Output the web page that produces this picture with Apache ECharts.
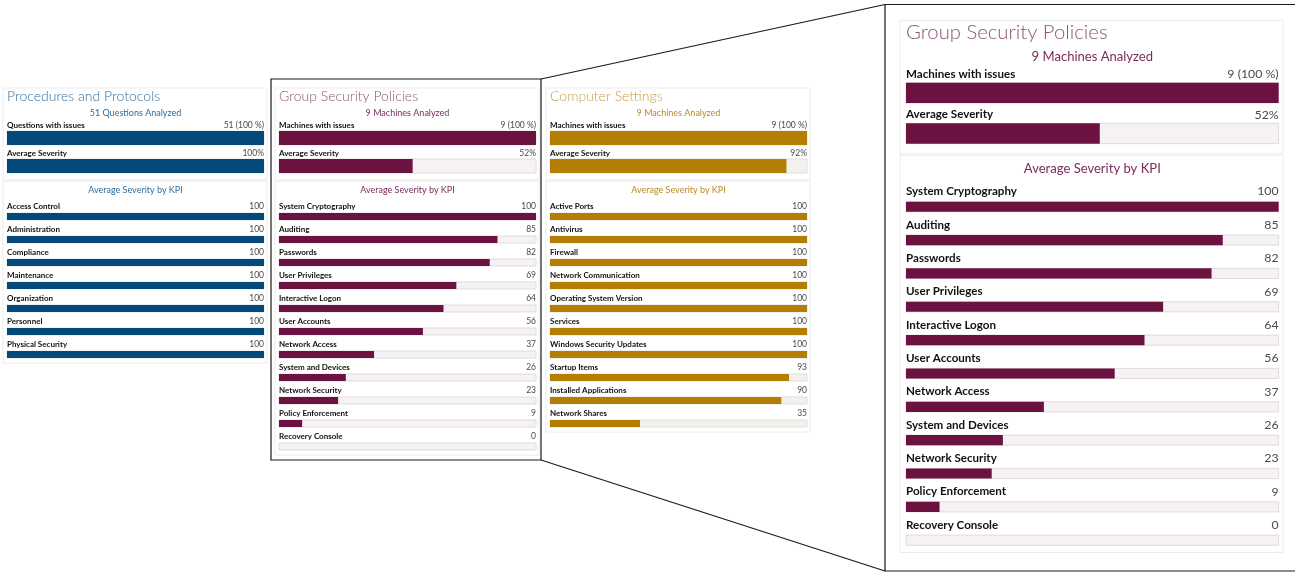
<!DOCTYPE html>
<html>
<head>
<meta charset="utf-8">
<script src="https://cdn.jsdelivr.net/npm/echarts@6/dist/echarts.min.js"></script>
<style>
html, body { margin: 0; padding: 0; background: #fff; }
#chart { width: 1295px; height: 572px; }
</style>
</head>
<body>
<div id="chart"></div>
<script>
// Procedures and Protocols
const ppSummaryLabels = ['Questions with issues', 'Average Severity']
const ppSummaryValues = [100, 100]
const ppSummaryTexts = ['51 (100 %)', '100%']
const ppKpis = ['Access Control', 'Administration', 'Compliance', 'Maintenance', 'Organization', 'Personnel', 'Physical Security']
const ppScores = [100, 100, 100, 100, 100, 100, 100]

// Group Security Policies
const gspSummaryLabels = ['Machines with issues', 'Average Severity']
const gspSummaryValues = [100, 52]
const gspSummaryTexts = ['9 (100 %)', '52%']
const gspKpis = ['System Cryptography', 'Auditing', 'Passwords', 'User Privileges', 'Interactive Logon', 'User Accounts',
    'Network Access', 'System and Devices', 'Network Security', 'Policy Enforcement', 'Recovery Console']
const gspScores = [100, 85, 82, 69, 64, 56, 37, 26, 23, 9, 0]

// Computer Settings
const csSummaryLabels = ['Machines with issues', 'Average Severity']
const csSummaryValues = [100, 92]
const csSummaryTexts = ['9 (100 %)', '92%']
const csKpis = ['Active Ports', 'Antivirus', 'Firewall', 'Network Communication', 'Operating System Version', 'Services',
    'Windows Security Updates', 'Startup Items', 'Installed Applications', 'Network Shares']
const csScores = [100, 100, 100, 100, 100, 100, 100, 93, 90, 35]

const FONT = 'Lato, "Open Sans", sans-serif'

const themes = {
    blue: { bar: '#05497a', title: '#3370a2', accent: '#2f6c9c', track: '#eef2f6', trackBorder: '#dfe5ea' },
    maroon: { bar: '#6b1241', title: '#8c5478', accent: '#7b2c5c', track: '#f6f1f5', trackBorder: '#e2d9df' },
    gold: { bar: '#b47e02', title: '#c8a04a', accent: '#b98a22', track: '#f3f1ee', trackBorder: '#e3dfda' }
}

const option = {
    animation: false,
    backgroundColor: '#fff',
    grid: [],
    xAxis: [],
    yAxis: [],
    series: [],
    graphic: []
}

function card(x, y, w, h) {
    option.graphic.push({
        type: 'rect', silent: true, z: -10,
        shape: { x: x, y: y, width: w, height: h },
        style: { fill: '#fff', stroke: '#ececec', lineWidth: 1 }
    })
}

function text(x, y, str, size, color, weight, align) {
    option.graphic.push({
        type: 'text', silent: true, x: x, y: y,
        style: { text: str, fontSize: size, fill: color, fontWeight: weight, fontFamily: FONT, align: align, verticalAlign: 'middle' }
    })
}

// one grid of labelled progress bars
function barBlock(p, names, values, texts, top, band, barW, gap) {
    const s = p.scale
    const W = 257 * s
    const i = option.grid.length
    option.grid.push({ left: p.x, top: top, width: W, height: band * names.length })
    option.xAxis.push({ type: 'value', gridIndex: i, min: 0, max: 100, show: false })
    option.yAxis.push({ type: 'category', gridIndex: i, data: names, inverse: true, show: false })
    option.series.push({
        type: 'bar', xAxisIndex: i, yAxisIndex: i, data: values, barWidth: barW, silent: true,
        itemStyle: { color: p.theme.bar },
        showBackground: true,
        backgroundStyle: { color: p.theme.track, borderColor: p.theme.trackBorder, borderWidth: 1 },
        label: {
            show: true,
            position: [0, -gap],
            align: 'left',
            verticalAlign: 'middle',
            formatter: (d) => '{n|' + names[d.dataIndex] + '}{v|' + texts[d.dataIndex] + '}',
            rich: {
                n: { width: W - 60 * s, fontSize: 8 * s, fontWeight: 'bold', color: '#111', fontFamily: FONT },
                v: { width: 60 * s, align: 'right', fontSize: 8.5 * s, color: '#4a4a4a', fontFamily: FONT }
            }
        }
    })
}

function panel(p) {
    const s = p.scale
    const y = (v) => p.y + v * s
    const n = p.kpis.length
    const cx = p.x + 128.5 * s

    card(p.x - 4 * s, y(-8), 264 * s, 92 * s)
    card(p.x - 4 * s, y(85), 264 * s, (21 + 23 * n) * s)

    text(p.x, y(0), p.title, 14 * s, p.theme.title, 300, 'left')
    text(cx, y(17), p.subtitle, 9 * s, p.theme.accent, 'normal', 'center')
    text(cx, y(94), 'Average Severity by KPI', 9 * s, p.theme.accent, 'normal', 'center')

    barBlock(p, p.summaryLabels, p.summaryValues, p.summaryTexts, y(28), 28 * s, 14 * s, 6 * s)
    barBlock(p, p.kpis, p.scores, p.scores.map(String), y(109), 23 * s, 7 * s, 7 * s)
}

panel({ x: 7, y: 96, scale: 1, theme: themes.blue, title: 'Procedures and Protocols', subtitle: '51 Questions Analyzed',
    summaryLabels: ppSummaryLabels, summaryValues: ppSummaryValues, summaryTexts: ppSummaryTexts, kpis: ppKpis, scores: ppScores })
panel({ x: 279, y: 96, scale: 1, theme: themes.maroon, title: 'Group Security Policies', subtitle: '9 Machines Analyzed',
    summaryLabels: gspSummaryLabels, summaryValues: gspSummaryValues, summaryTexts: gspSummaryTexts, kpis: gspKpis, scores: gspScores })
panel({ x: 550, y: 96, scale: 1, theme: themes.gold, title: 'Computer Settings', subtitle: '9 Machines Analyzed',
    summaryLabels: csSummaryLabels, summaryValues: csSummaryValues, summaryTexts: csSummaryTexts, kpis: csKpis, scores: csScores })
// zoomed copy of Group Security Policies
panel({ x: 906, y: 32, scale: 1.45, theme: themes.maroon, title: 'Group Security Policies', subtitle: '9 Machines Analyzed',
    summaryLabels: gspSummaryLabels, summaryValues: gspSummaryValues, summaryTexts: gspSummaryTexts, kpis: gspKpis, scores: gspScores })

// zoom frame and connector lines
const lineStyle = { stroke: '#1a1a1a', lineWidth: 1.2, fill: null }
option.graphic.push(
    { type: 'rect', silent: true, z: 50, shape: { x: 271, y: 79, width: 270, height: 381 }, style: lineStyle },
    { type: 'polyline', silent: true, z: 50, shape: { points: [[1296, 4.5], [885, 4.5], [885, 571], [1296, 571]] }, style: lineStyle },
    { type: 'line', silent: true, z: 50, shape: { x1: 541, y1: 79, x2: 885, y2: 4.5 }, style: lineStyle },
    { type: 'line', silent: true, z: 50, shape: { x1: 541, y1: 460, x2: 885, y2: 571 }, style: lineStyle }
)

const chart = echarts.init(document.getElementById('chart'))
chart.setOption(option)
window.addEventListener('resize', function () {
    chart.resize()
})
</script>
</body>
</html>
